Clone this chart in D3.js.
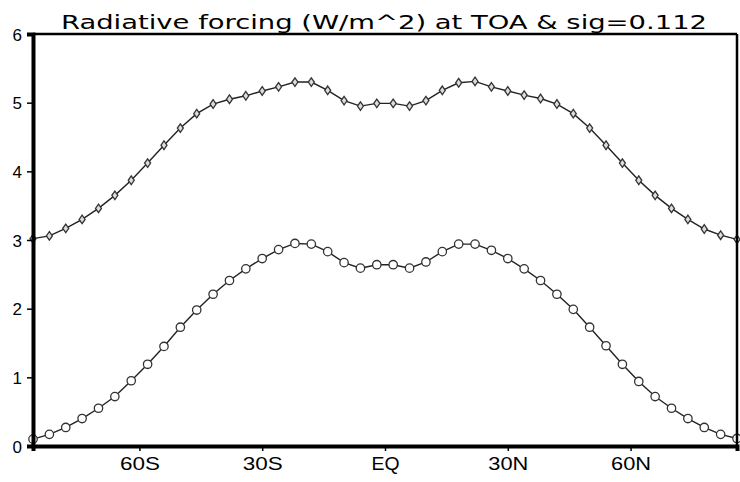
<!DOCTYPE html>
<html>
<head>
<meta charset="utf-8">
<script src="https://cdn.jsdelivr.net/npm/d3@7"></script>
<style>
  body { margin: 0; background: #fff; }
  svg { display: block; }
</style>
</head>
<body>
<div id="chart"></div>
<script>
// latitudes of the grid points (deg, negative = south)
const lats = [-86, -82, -78, -74, -70, -66, -62, -58, -54, -50, -46, -42, -38, -34, -30, -26, -22, -18, -14, -10, -6, -2,
              2, 6, 10, 14, 18, 22, 26, 30, 34, 38, 42, 46, 50, 54, 58, 62, 66, 70, 74, 78, 82, 86];

// upper curve (diamonds)
const forcingTop = [3.02, 3.06, 3.17, 3.30, 3.46, 3.65, 3.87, 4.12, 4.38, 4.63, 4.84, 4.98, 5.05, 5.10, 5.17, 5.23, 5.30, 5.30, 5.18, 5.03, 4.95, 4.99,
                    4.99, 4.95, 5.03, 5.18, 5.29, 5.31, 5.23, 5.17, 5.11, 5.06, 4.98, 4.84, 4.63, 4.38, 4.12, 3.87, 3.65, 3.46, 3.30, 3.16, 3.07, 3.01];

// lower curve (circles)
const forcingLow = [0.10, 0.17, 0.27, 0.40, 0.55, 0.72, 0.95, 1.19, 1.45, 1.73, 1.98, 2.21, 2.41, 2.58, 2.73, 2.86, 2.95, 2.94, 2.83, 2.67, 2.59, 2.64,
                    2.64, 2.59, 2.68, 2.83, 2.94, 2.94, 2.85, 2.73, 2.58, 2.41, 2.21, 1.99, 1.73, 1.46, 1.19, 0.94, 0.72, 0.55, 0.40, 0.27, 0.17, 0.11];

const xTicks = [-60, -30, 0, 30, 60];
const xTickLabels = ['60S', '30S', 'EQ', '30N', '60N'];
const yTicks = [0, 1, 2, 3, 4, 5, 6];

const title = 'Radiative forcing (W/m^2) at TOA & sig=0.112';

const width = 740, height = 482;
const plot = { left: 33, right: 737, top: 34, bottom: 446 };

const svg = d3.select('#chart')
  .append('svg')
  .attr('width', width)
  .attr('height', height)
  .style('font-family', '"DejaVu Sans", sans-serif');

const x = d3.scaleLinear().domain([-86, 86]).range([plot.left, plot.right]);
const y = d3.scaleLinear().domain([0, 6]).range([plot.bottom, plot.top]);

const line = d3.line()
  .x(d => x(d[0]))
  .y(d => y(d[1]));

const topPts = lats.map((lat, i) => [lat, forcingTop[i]]);
const lowPts = lats.map((lat, i) => [lat, forcingLow[i]]);

// lines
[topPts, lowPts].forEach(pts => {
  svg.append('path')
    .datum(pts)
    .attr('d', line)
    .attr('fill', 'none')
    .attr('stroke', '#222')
    .attr('stroke-width', 1.4);
});

// diamond markers
svg.selectAll('.dia')
  .data(topPts)
  .enter()
  .append('path')
  .attr('class', 'dia')
  .attr('d', 'M0,-4.3L3,0L0,4.3L-3,0Z')
  .attr('transform', d => `translate(${x(d[0])},${y(d[1])})`)
  .attr('fill', '#ddd')
  .attr('stroke', '#333')
  .attr('stroke-width', 1.3);

// circle markers
svg.selectAll('.circ')
  .data(lowPts)
  .enter()
  .append('circle')
  .attr('class', 'circ')
  .attr('cx', d => x(d[0]))
  .attr('cy', d => y(d[1]))
  .attr('r', 4.2)
  .attr('fill', '#fff')
  .attr('stroke', '#333')
  .attr('stroke-width', 1.3);

// frame: thin top/right, thick left/bottom
svg.append('line')
  .attr('x1', plot.left).attr('x2', plot.right)
  .attr('y1', plot.top).attr('y2', plot.top)
  .attr('stroke', '#000').attr('stroke-width', 2.5);
svg.append('line')
  .attr('x1', plot.right).attr('x2', plot.right)
  .attr('y1', plot.top).attr('y2', plot.bottom)
  .attr('stroke', '#000').attr('stroke-width', 2.5);

// y axis
const yAxis = d3.axisLeft(y).tickValues(yTicks).tickSize(6).tickPadding(5).tickFormat(d3.format('d'));
const gy = svg.append('g')
  .attr('transform', `translate(${plot.left},0)`)
  .call(yAxis);
gy.select('.domain').attr('stroke-width', 4);
gy.selectAll('.tick line').attr('stroke-width', 1.5);
gy.selectAll('.tick text')
  .style('font-size', '17px')
  .attr('dy', '0.36em')
  .attr('fill', '#000');

// x axis
const xAxis = d3.axisBottom(x).tickValues(xTicks).tickSize(5).tickPadding(6)
  .tickFormat((d, i) => xTickLabels[i]);
const gx = svg.append('g')
  .attr('transform', `translate(0,${plot.bottom})`)
  .call(xAxis);
gx.select('.domain').attr('stroke-width', 4);
gx.selectAll('.tick line').attr('stroke-width', 1.5);
gx.selectAll('.tick text')
  .style('font-size', '19px')
  .attr('textLength', 40)
  .attr('lengthAdjust', 'spacingAndGlyphs')
  .attr('fill', '#000');
gx.selectAll('.tick').filter(d => d === 0).select('text').attr('textLength', 28);

// title
svg.append('text')
  .attr('x', 384)
  .attr('y', 29)
  .attr('text-anchor', 'middle')
  .attr('textLength', 646)
  .attr('lengthAdjust', 'spacingAndGlyphs')
  .style('font-size', '20px')
  .attr('fill', '#000')
  .text(title);
</script>
</body>
</html>
